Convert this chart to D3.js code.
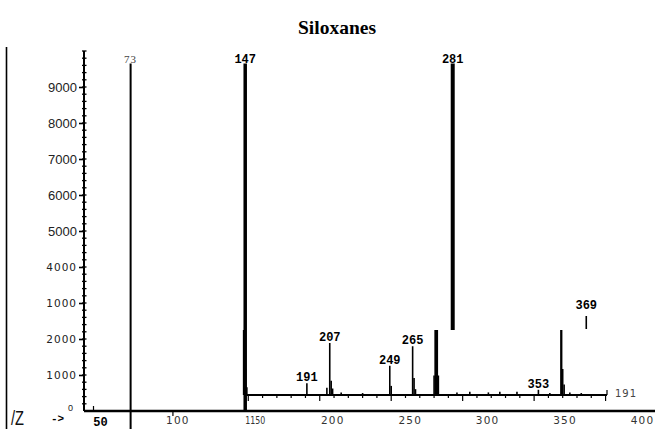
<!DOCTYPE html>
<html>
<head>
<meta charset="utf-8">
<script src="https://cdn.jsdelivr.net/npm/d3@7"></script>
<style>
  html, body { margin: 0; padding: 0; background: #fff; }
  svg { display: block; }
</style>
</head>
<body>
<div id="chart"></div>
<script>
// ---- data -------------------------------------------------------------
const chartTitle = "Siloxanes";

// intensity axis (counts)
const yTickValues = [0, 1000, 2000, 3000, 4000, 5000, 6000, 7000, 8000, 9000];
const yTickLabels = ["0", "1000", "2000", "1000", "4000", "5000", "6000", "7000", "8000", "9000"];

// m/z axis
const xTickValues = [50, 100, 150, 200, 250, 300, 350, 400];
const xTickLabels = ["50", "100", "1150", "200", "250", "300", "350", "400"];

// full-scale ions (m/z, counts)
const mainMz = [73, 147, 281];
const mainIntensity = [9650, 9650, 9650];
const mainLabels = ["73", "147", "281"];

// expanded trace of the upper mass range (m/z, relative %)
const insetMz = [147, 148, 149, 191, 205, 207, 208, 209, 215, 230, 249, 250, 265, 266, 267,
                 280, 281, 282, 283, 296, 305, 318, 326, 338, 353, 361, 369, 370, 371, 375, 383];
const insetRel = [100, 40, 12, 18, 11, 80, 22, 10, 4, 3, 45, 14, 75, 26, 9,
                  30, 100, 100, 30, 4, 5, 4, 5, 5, 8, 3, 100, 40, 16, 4, 3];
const insetLabelText = ["191", "207", "249", "265", "353", "369"];
const insetLabelMz = [191, 207, 249, 265, 353, 369];
const insetEndLabel = "191";

// ---- layout -----------------------------------------------------------
const W = 661, H = 429;
const svg = d3.select("#chart").append("svg").attr("width", W).attr("height", H);

const y = d3.scaleLinear().domain([0, 10000]).range([411, 51]);
const x = d3.scaleLinear().domain([50, 400]).range([95, 637]);
const ix = d3.scaleLinear().domain([147, 401]).range([244, 607]);
const iy = d3.scaleLinear().domain([0, 100]).range([395, 330]);

// title
svg.append("text")
  .attr("x", 337).attr("y", 34)
  .attr("text-anchor", "middle")
  .attr("font-family", "'Liberation Serif', 'Times New Roman', serif")
  .attr("font-weight", "bold").attr("font-size", 19.5)
  .text(chartTitle);

// left frame line
svg.append("line")
  .attr("x1", 6.5).attr("x2", 6.5).attr("y1", 47).attr("y2", H)
  .attr("stroke", "#000").attr("stroke-width", 1.6);

// ---- y axis -----------------------------------------------------------
const yAxis = d3.axisLeft(y)
  .tickValues(yTickValues)
  .tickFormat((d, i) => yTickLabels[i])
  .tickSize(5).tickPadding(2);

const gy = svg.append("g").attr("transform", "translate(84,0)").call(yAxis);
gy.select(".domain").remove();
gy.selectAll(".tick line").attr("stroke", "#000").attr("stroke-width", 1.6);
gy.selectAll(".tick text")
  .attr("fill", "#222")
  .attr("font-family", (d, i) => (i >= 1 && i <= 4) ? "'DejaVu Sans', sans-serif" : "'Liberation Sans', Arial, sans-serif")
  .attr("font-size", (d, i) => i === 0 ? 9 : (i <= 4 ? 10.5 : 13))
  .attr("letter-spacing", (d, i) => (i >= 1 && i <= 4) ? 1 : 0)
  .attr("dy", (d, i) => i === 0 ? "-0.1em" : "0.32em")
  .attr("dx", (d, i) => i === 0 ? -4 : 0);
gy.selectAll(".tick").filter((d, i) => i === 0).select("line").remove();

// axis spine with fine graduations
svg.append("line")
  .attr("x1", 84).attr("x2", 84).attr("y1", y(10000)).attr("y2", y(0))
  .attr("stroke", "#000").attr("stroke-width", 2);
svg.append("g").selectAll("line")
  .data(d3.range(200, 10001, 200))
  .join("line")
  .attr("x1", 82).attr("x2", 86.5)
  .attr("y1", d => y(d)).attr("y2", d => y(d))
  .attr("stroke", "#000").attr("stroke-width", 1.3);

// ---- main peaks -------------------------------------------------------
const mainData = mainMz.map((m, i) => ({ mz: m, v: mainIntensity[i], label: mainLabels[i] }));
const mainWidth = [2, 3.5, 4];
const insetLeft = ix.range()[0], insetRight = ix.range()[1];

// a line left of the expanded trace runs past the axis; one over the trace
// stops at its upper edge; one on its left edge stops at the axis
function peakFoot(d) {
  const px = x(d.mz);
  if (px < insetLeft) return H;
  if (px > insetLeft + 3 && px < insetRight) return iy(100);
  return y(0);
}

svg.append("g").selectAll("line")
  .data(mainData)
  .join("line")
  .attr("x1", d => x(d.mz)).attr("x2", d => x(d.mz))
  .attr("y1", d => y(d.v))
  .attr("y2", peakFoot)
  .attr("stroke", "#000")
  .attr("stroke-width", (d, i) => mainWidth[i]);

svg.append("g").selectAll("text")
  .data(mainData)
  .join("text")
  .attr("x", d => x(d.mz))
  .attr("y", d => y(d.v) - 1)
  .attr("text-anchor", "middle")
  .attr("font-family", (d, i) => i === 0 ? "'Liberation Serif', serif" : "'Liberation Mono', monospace")
  .attr("font-weight", (d, i) => i === 0 ? "normal" : "bold")
  .attr("font-size", (d, i) => i === 0 ? 11 : 12)
  .attr("fill", (d, i) => i === 0 ? "#444" : "#000")
  .attr("letter-spacing", (d, i) => i === 0 ? 1 : 0)
  .text(d => d.label);

// ---- expanded trace ---------------------------------------------------
const inset = svg.append("g");

// baseline with graduations every 10 units
inset.append("line")
  .attr("x1", ix(147)).attr("x2", ix(401)).attr("y1", iy(0)).attr("y2", iy(0))
  .attr("stroke", "#000").attr("stroke-width", 2.2);
inset.append("g").selectAll("line")
  .data(d3.range(150, 401, 10))
  .join("line")
  .attr("x1", d => ix(d)).attr("x2", d => ix(d))
  .attr("y1", iy(0))
  .attr("y2", d => iy(0) + (d % 50 === 0 ? 6 : 3))
  .attr("stroke", "#000").attr("stroke-width", 1.2);
inset.append("line")
  .attr("x1", ix(401)).attr("x2", ix(401)).attr("y1", iy(0)).attr("y2", iy(0) - 5)
  .attr("stroke", "#000").attr("stroke-width", 1.2);

const insetData = insetMz.map((m, i) => ({ mz: m, v: insetRel[i] }));
inset.append("g").selectAll("line")
  .data(insetData)
  .join("line")
  .attr("x1", d => ix(d.mz)).attr("x2", d => ix(d.mz))
  .attr("y1", iy(0)).attr("y2", d => iy(d.v))
  .attr("stroke", "#000")
  .attr("stroke-width", d => d.v >= 100 ? 2.3 : 1.6);

// peak annotations
const labelDx = { "369": 25 };
const labelData = insetLabelMz.map((m, i) => {
  const p = insetData.find(d => d.mz === m);
  return { mz: m, text: insetLabelText[i], v: p ? p.v : 0 };
});
inset.append("g").selectAll("text")
  .data(labelData)
  .join("text")
  .attr("x", d => ix(d.mz) + (labelDx[d.text] || 0))
  .attr("y", d => d.v >= 100 ? iy(100) - 21 : iy(d.v) - 2)
  .attr("text-anchor", "middle")
  .attr("font-family", "'Liberation Mono', 'DejaVu Sans Mono', monospace")
  .attr("font-weight", "bold").attr("font-size", 12)
  .text(d => d.text);
// flag under the off-set annotation
inset.append("g").selectAll("line")
  .data(labelData.filter(d => labelDx[d.text]))
  .join("line")
  .attr("x1", d => ix(d.mz) + labelDx[d.text]).attr("x2", d => ix(d.mz) + labelDx[d.text])
  .attr("y1", iy(100) - 14).attr("y2", iy(100) - 1)
  .attr("stroke", "#000").attr("stroke-width", 1.6);

inset.append("text")
  .attr("x", ix(401) + 8).attr("y", iy(0) + 2)
  .attr("font-family", "'DejaVu Sans', sans-serif")
  .attr("font-size", 10).attr("letter-spacing", 1)
  .attr("fill", "#444")
  .text(insetEndLabel);

// ---- x axis -----------------------------------------------------------
svg.append("line")
  .attr("x1", 84).attr("x2", 655).attr("y1", y(0)).attr("y2", y(0))
  .attr("stroke", "#000").attr("stroke-width", 2.4);

const xAxis = d3.axisBottom(x)
  .tickValues(xTickValues)
  .tickFormat((d, i) => xTickLabels[i])
  .tickSize(0).tickPadding(6);
const gx = svg.append("g").attr("transform", `translate(0,${y(0)})`).call(xAxis);
gx.select(".domain").remove();
gx.selectAll(".tick text")
  .attr("dx", 5)
  .attr("fill", (d, i) => i === 0 ? "#000" : "#333")
  .attr("font-family", (d, i) => i === 0 ? "'Liberation Mono', monospace" : "'DejaVu Sans', sans-serif")
  .attr("font-weight", (d, i) => i === 0 ? "bold" : "normal")
  .attr("font-size", (d, i) => i === 0 ? 12 : 10.5)
  .attr("letter-spacing", (d, i) => (i === 0 || i === 2) ? 0 : 1.2)
  .each(function (d, i) {
    if (i === 2) d3.select(this).attr("textLength", 20).attr("lengthAdjust", "spacingAndGlyphs");
  });
gx.selectAll(".tick").filter((d, i) => i <= 1).append("line")
  .attr("y1", (d, i) => i === 0 ? -5 : 0).attr("y2", (d, i) => i === 0 ? 0 : 5)
  .attr("x1", (d, i) => i === 0 ? -2 : 0).attr("x2", (d, i) => i === 0 ? -2 : 0)
  .attr("stroke", "#000").attr("stroke-width", 1.2);

// axis caption at the lower left
svg.append("text")
  .attr("x", 11).attr("y", 425)
  .attr("font-family", "'Liberation Sans', Arial, sans-serif")
  .attr("font-size", 20).attr("fill", "#111")
  .attr("textLength", 13).attr("lengthAdjust", "spacingAndGlyphs")
  .text("/Z");
svg.append("text")
  .attr("x", 51).attr("y", 422)
  .attr("font-family", "'Liberation Mono', monospace")
  .attr("font-weight", "bold").attr("font-size", 11)
  .text("->");
</script>
</body>
</html>
